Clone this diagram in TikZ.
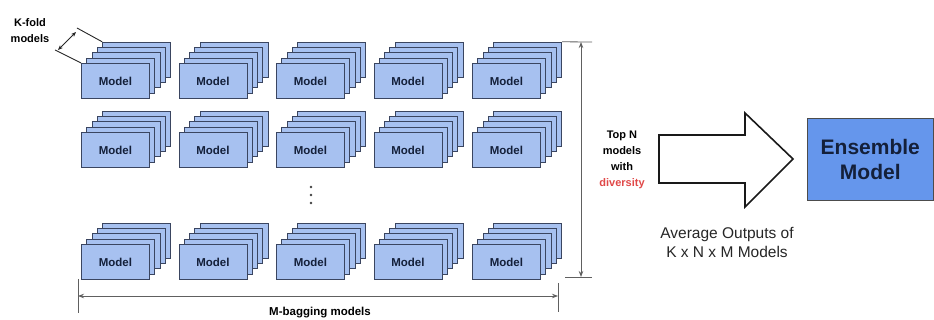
\documentclass[tikz,border=0pt]{standalone}
\usepackage{fontspec}
\setmainfont{Liberation Sans}
\usetikzlibrary{arrows.meta}
\definecolor{boxfill}{HTML}{A7C1F0}
\definecolor{boxline}{HTML}{3A4560}
\definecolor{ensfill}{HTML}{6596EC}
\definecolor{enstext}{HTML}{14203A}
\definecolor{dimgray}{HTML}{606060}
\definecolor{divred}{HTML}{E04848}
\tikzset{
  modelbox/.style={draw=boxline, fill=boxfill, line width=0.9pt, minimum width=68pt, minimum height=35pt, inner sep=0pt, anchor=north west, font=\bfseries\fontsize{11.5}{12}\selectfont, text=enstext},
  dimline/.style={draw=dimgray, line width=0.8pt},
  dimarrow/.style={dimline, {Stealth[length=6pt,width=4.5pt]}-{Stealth[length=6pt,width=4.5pt]}},
  lbl/.style={font=\bfseries\fontsize{11}{16}\selectfont, align=center, inner sep=0pt},
}
\begin{document}
\begin{tikzpicture}[x=1pt,y=-1pt]
\useasboundingbox (0,0) rectangle (934,320);
% model stacks
\foreach \r/\ry in {1/63,2/132,3/244}{
  \foreach \c/\cx in {1/81,2/178.5,3/276,4/373.5,5/472}{
    \foreach \k in {4,3,2,1}{
      \node[modelbox] (m-\r-\c-\k) at ({\cx+5.3*\k},{\ry-5.3*\k}) {};
    }
    \node[modelbox] (m-\r-\c-0) at (\cx,\ry) {Model};
  }
}
% vertical dots
\foreach \i/\yy in {1/187,2/195,3/203}{
  \fill[black!75] (311,\yy) circle (1.4pt) coordinate (dot\i);
}
% K-fold bracket
\coordinate (kt1) at (77,28);
\coordinate (kb1) at (55,50);
\draw[line width=0.9pt, black!85] (m-1-1-4.north west) -- (kt1);
\draw[line width=0.9pt, black!85] (m-1-1-0.north west) -- (kb1);
\coordinate (ka1) at (76,32);
\coordinate (ka2) at (58,50);
\draw[line width=0.8pt, black!85, {Stealth[length=5pt,width=4pt]}-{Stealth[length=5pt,width=4pt]}] (ka1) -- (ka2);
\node[lbl] (kfold) at (30,31) {K-fold\\models};
% Top N dimension
\coordinate (tnTopR) at (592,42);
\coordinate (tnBotL) at (565,277);
\coordinate (tnBotR) at (592,277);
\draw[dimline] (m-1-5-4.north east) -- (tnTopR);
\draw[dimline] (tnBotL) -- (tnBotR);
\coordinate (tnA) at (581,42);
\coordinate (tnB) at (581,277);
\draw[dimarrow] (tnA) -- (tnB);
\node[lbl] (topn) at (622,160) {Top N\\models\\with\\\textcolor{divred}{diversity}};
% M-bagging dimension
\coordinate (mbL1) at (78,279);
\coordinate (mbL2) at (78,313);
\coordinate (mbR1) at (558,283);
\coordinate (mbR2) at (558,312);
\draw[dimline] (mbL1) -- (mbL2);
\draw[dimline] (mbR1) -- (mbR2);
\coordinate (mbA) at (78,296);
\coordinate (mbB) at (558,296);
\draw[dimarrow] (mbA) -- (mbB);
\node[lbl, font=\bfseries\fontsize{11.5}{12}\selectfont] (mbag) at (320,313) {M-bagging models};
% big arrow
\draw[line width=1.6pt, black!90, fill=white, line join=miter]
  (659,135) -- (745,135) -- (745,113) -- (793,159) -- (745,207) -- (745,183) -- (659,183) -- cycle;
\node[font=\fontsize{15.5}{19}\selectfont, align=center, text=black!85] (avg) at (727,242) {Average Outputs of\\K x N x M Models};
% ensemble model
\node[draw=black!70, fill=ensfill, line width=0.6pt, minimum width=126pt, minimum height=82pt, anchor=north west, inner sep=0pt, align=center, font=\bfseries\fontsize{21}{25}\selectfont, text=enstext] (ens) at (807,118) {Ensemble\\Model};
\end{tikzpicture}
\end{document}
